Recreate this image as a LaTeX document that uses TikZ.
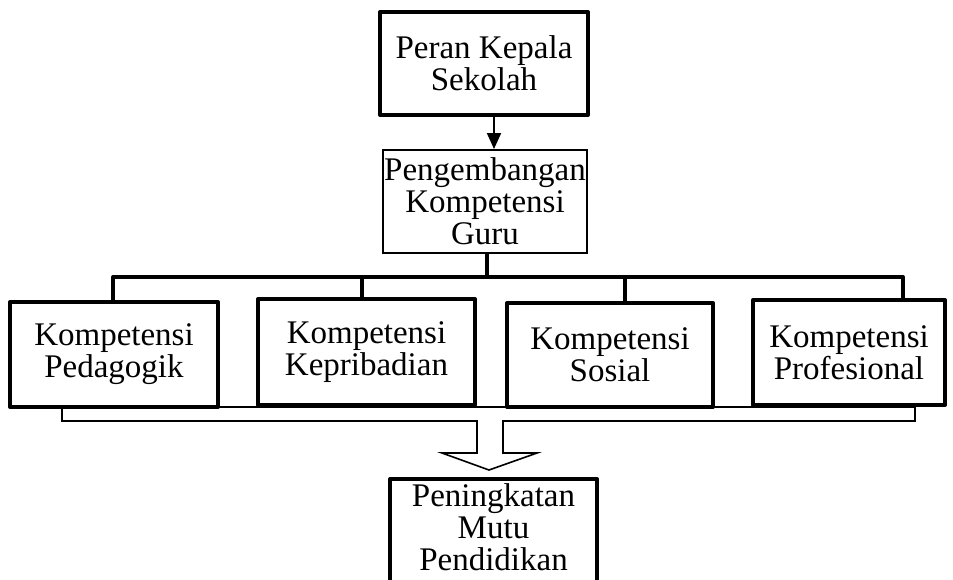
\documentclass[tikz,border=0pt]{standalone}
\usepackage{fontspec}
\setmainfont{Liberation Serif}
\usetikzlibrary{arrows.meta}
\begin{document}
\begin{tikzpicture}[x=1pt,y=-1pt,
  txt/.style={font=\fontsize{33}{32}\selectfont, align=center, inner sep=0pt},
  thickbox/.style={txt, draw, line width=4pt, line join=round, fill=white},
  thinbox/.style={txt, draw, line width=2pt, fill=white},
  lnk/.style={line width=4pt, line join=round},
  blockarrow/.style={draw, line width=1.6pt, fill=white, line join=miter}]
\useasboundingbox (0,0) rectangle (953,579);
\clip (0,0) rectangle (953,579);

% open block arrow (drawn first, boxes lie over its top edge)
\draw[blockarrow] (62,407) -- (915,407) -- (915,421) -- (503,421) -- (503,453)
  -- (537,453) -- (489,470) -- (442,453) -- (477,453) -- (477,421) -- (62,421) -- cycle;

\node[thickbox, minimum width=208pt, minimum height=103pt] (peran) at (484,63.5) {Peran Kepala\\Sekolah};
\node[thinbox, minimum width=204pt, minimum height=103pt] (peng) at (485,201.5) {Pengembangan\\Kompetensi\\Guru};

\node[thickbox, minimum width=208pt, minimum height=105pt] (k1) at (114,354.5) {Kompetensi\\Pedagogik};
\node[thickbox, minimum width=217pt, minimum height=106pt] (k2) at (366.5,352) {Kompetensi\\Kepribadian};
\node[thickbox, minimum width=206pt, minimum height=104pt] (k3) at (610,355) {Kompetensi\\Sosial};
\node[thickbox, minimum width=192pt, minimum height=105pt] (k4) at (849,352.5) {Kompetensi\\Profesional};

\node[thickbox, anchor=north, minimum width=207pt, inner ysep=5pt, text depth=28pt] (mutu) at (493.5,477) {Peningkatan\\Mutu\\Pendidikan};

% arrow
\draw[line width=2pt, -{Triangle[length=16pt, width=14pt]}] ([xshift=10pt]peran.south) -- ([xshift=9pt]peng.north);

% tree
\coordinate (bar) at (487,277);
\draw[lnk] ([xshift=2pt]peng.south) -- (bar);
\draw[lnk] ([xshift=-1pt]k1.north) |- (bar);
\draw[lnk] (bar) -| ([xshift=54pt]k4.north);
\draw[lnk] ([xshift=-4.5pt]k2.north) -- ([xshift=-4.5pt]k2.north |- bar);
\draw[lnk] ([xshift=15pt]k3.north) -- ([xshift=15pt]k3.north |- bar);
\end{tikzpicture}
\end{document}
